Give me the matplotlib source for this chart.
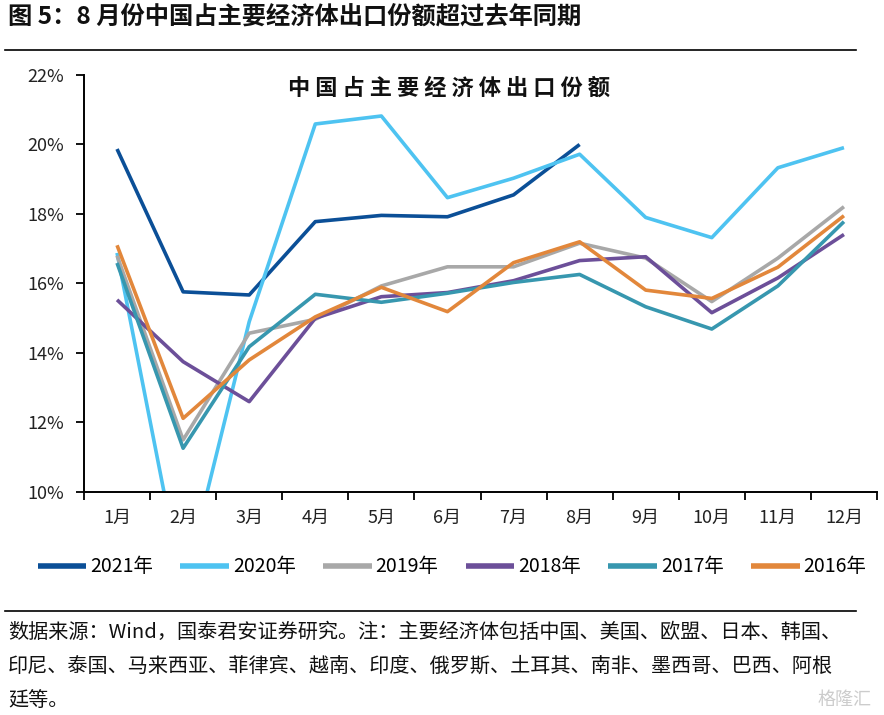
import matplotlib
matplotlib.use("Agg")
import matplotlib.pyplot as plt
from matplotlib.ticker import FixedLocator, NullFormatter
import numpy as np

plt.rcParams['font.family'] = ['Noto Sans CJK SC', 'DejaVu Sans']

months = ['1月', '2月', '3月', '4月', '5月', '6月', '7月', '8月', '9月', '10月', '11月', '12月']
s2021 = [19.87, 15.76, 15.67, 17.78, 17.96, 17.92, 18.55, 20.0]
s2020 = [16.88, 7.2, 14.9, 20.59, 20.82, 18.47, 19.03, 19.72, 17.9, 17.32, 19.33, 19.91]
s2019 = [16.8, 11.5, 14.57, 14.97, 15.93, 16.48, 16.48, 17.16, 16.73, 15.48, 16.73, 18.21]
s2018 = [15.53, 13.75, 12.6, 15.0, 15.62, 15.74, 16.08, 16.66, 16.77, 15.16, 16.16, 17.41]
s2017 = [16.59, 11.26, 14.18, 15.69, 15.46, 15.72, 16.03, 16.26, 15.33, 14.69, 15.93, 17.78]
s2016 = [17.1, 12.12, 13.8, 15.04, 15.89, 15.19, 16.6, 17.2, 15.81, 15.57, 16.47, 17.95]
series = [('2021年', s2021, '#0B4F97'),
          ('2020年', s2020, '#4EC3F1'),
          ('2019年', s2019, '#A8A8A8'),
          ('2018年', s2018, '#6C4F99'),
          ('2017年', s2017, '#3797AF'),
          ('2016年', s2016, '#E2873B')]
yticks = [10, 12, 14, 16, 18, 20, 22]

fig = plt.figure(figsize=(8.84, 7.15), dpi=100)
W, H = 884, 715
ax = fig.add_axes([84 / W, 1 - 492 / H, (877 - 84) / W, (492 - 75) / H])

x = np.arange(len(months))
for name, vals, col in series:
    ax.plot(x[:len(vals)], vals, color=col, lw=2.6, label=name, solid_capstyle='butt')

ax.set_xlim(-0.5, len(months) - 0.5)
ax.set_ylim(10, 22)
ax.set_yticks(yticks)
ax.set_yticklabels([f'{v}%' for v in yticks], fontsize=13, color='#222222')
ax.xaxis.set_major_locator(FixedLocator(np.arange(-0.5, len(months), 1.0)))
ax.xaxis.set_major_formatter(NullFormatter())
ax.xaxis.set_minor_locator(FixedLocator(x))
ax.set_xticklabels(months, minor=True, fontsize=13, color='#222222')
ax.tick_params(axis='x', which='minor', length=0, pad=12)
ax.tick_params(axis='x', which='major', length=6, width=1.3, direction='out')
ax.tick_params(axis='y', length=6, width=1.3, direction='out', pad=8)
for s in ['top', 'right']:
    ax.spines[s].set_visible(False)
for s in ['left', 'bottom']:
    ax.spines[s].set_linewidth(1.4)

fig.text(449 / W, 1 - 88 / H, ' '.join('中国占主要经济体出口份额'), fontsize=16,
         fontweight='bold', ha='center', va='center', color='#111111')

leg = fig.legend(loc='center', bbox_to_anchor=(452 / W, 1 - 567 / H), ncol=6, frameon=False,
                 fontsize=14, handlelength=2.5, handletextpad=0.2, columnspacing=1.4)
for h in leg.get_lines():
    h.set_linewidth(4)

# header
fig.text(8 / W, 1 - 17 / H, '图 5：8 月份中国占主要经济体出口份额超过去年同期', fontsize=17.5,
         fontweight='bold', ha='left', va='center', color='#111111')
fig.add_artist(plt.Line2D([5 / W, 856 / W], [1 - 50 / H, 1 - 50 / H], color='black', lw=1.2))
fig.add_artist(plt.Line2D([5 / W, 856 / W], [1 - 611 / H, 1 - 611 / H], color='black', lw=1.2))

foot = ['数据来源：Wind，国泰君安证券研究。注：主要经济体包括中国、美国、欧盟、日本、韩国、',
        '印尼、泰国、马来西亚、菲律宾、越南、印度、俄罗斯、土耳其、南非、墨西哥、巴西、阿根',
        '廷等。']
for i, t in enumerate(foot):
    fig.text(8 / W, 1 - (632 + 34 * i) / H, t, fontsize=14.5, ha='left', va='center', color='#111111')

fig.text(872 / W, 1 - 700 / H, '格隆汇', fontsize=13, ha='right', va='center', color='#cccccc')

fig.savefig('out.png', dpi=100)
